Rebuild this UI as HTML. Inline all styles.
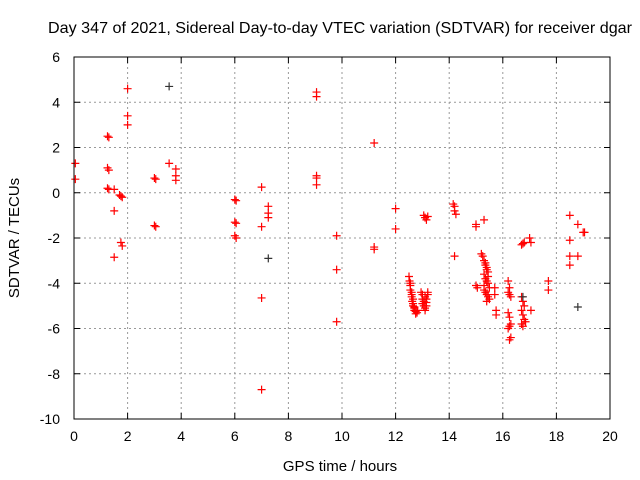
<!DOCTYPE html>
<html><head><meta charset="utf-8"><style>
body{margin:0;background:#fff;}
svg{display:block;font-family:"Liberation Sans",sans-serif;}
</style></head><body>
<svg id="chart" width="640" height="480" xmlns="http://www.w3.org/2000/svg">
<rect width="640" height="480" fill="#fff"/>
<text x="48" y="33" font-size="16" textLength="584" lengthAdjust="spacingAndGlyphs">Day 347 of 2021, Sidereal Day-to-day VTEC variation (SDTVAR) for receiver dgar</text>
<g id="grid"></g><g id="ticks"></g><g id="marks"></g>
<rect x="74" y="57" width="536" height="362" fill="none" stroke="#000" stroke-width="1"/>
<text x="340" y="471" font-size="15" text-anchor="middle">GPS time / hours</text>
<text transform="translate(19,238) rotate(-90)" font-size="15" text-anchor="middle">SDTVAR / TECUs</text>
</svg>
<script>
const xTicks=[0,2,4,6,8,10,12,14,16,18,20];
const yTicks=[6,4,2,0,-2,-4,-6,-8,-10];
const redX=[0.05,0.05,1.25,1.3,1.25,1.3,1.25,1.3,1.5,1.5,1.5,1.7,1.75,1.8,1.75,1.8,2.0,2.0,2.0,3.0,3.05,3.0,3.05,3.55,3.8,3.8,3.8,6.0,6.05,6.0,6.05,6.0,6.05,7.0,7.0,7.0,7.0,7.25,7.25,7.25,9.05,9.05,9.05,9.05,9.05,9.8,9.8,9.8,11.2,11.2,11.2,12.0,12.0,
12.5,12.52,12.55,12.55,12.6,12.6,12.62,12.65,12.65,12.7,12.7,12.75,12.75,12.8,12.82,12.55,12.6,12.65,12.7,
12.95,13.0,13.0,13.05,13.05,13.1,13.1,13.15,13.15,13.2,13.2,13.0,13.1,13.15,
13.05,13.1,13.15,13.2,14.15,14.2,14.2,14.25,14.2,
15.0,15.0,15.0,15.05,15.3,15.2,15.25,15.3,15.35,15.4,15.45,15.3,15.35,15.4,15.45,15.5,15.3,15.35,15.4,15.45,15.5,15.4,15.45,15.7,15.7,15.75,15.75,15.35,15.4,15.45,15.3,
16.2,16.25,16.2,16.25,16.3,16.2,16.25,16.3,16.2,16.25,16.3,16.25,
16.7,16.75,16.8,16.7,16.75,16.8,16.7,16.75,16.8,16.7,16.75,16.85,17.0,17.05,17.05,
17.7,17.7,18.5,18.5,18.5,18.5,18.8,18.8,19.0,19.05];
const redY=[1.3,0.6,2.5,2.45,1.1,1.0,0.2,0.15,0.15,-0.8,-2.85,-0.1,-0.15,-0.2,-2.2,-2.35,4.6,3.4,3.0,0.65,0.6,-1.45,-1.5,1.3,1.05,0.75,0.55,-0.3,-0.35,-1.3,-1.35,-1.9,-2.0,0.25,-1.5,-4.65,-8.7,-0.6,-0.9,-1.1,4.45,4.25,0.75,0.65,0.35,-1.9,-3.4,-5.7,2.2,-2.4,-2.5,-0.7,-1.6,
-3.7,-3.9,-4.1,-4.3,-4.5,-4.6,-4.8,-4.9,-5.0,-5.1,-5.2,-5.25,-5.35,-5.3,-5.2,-4.0,-4.4,-4.7,-5.05,
-4.4,-4.5,-4.7,-4.8,-5.0,-5.1,-5.2,-5.0,-4.7,-4.5,-4.4,-4.9,-4.6,-4.85,
-1.0,-1.1,-1.2,-1.05,-0.5,-0.6,-0.8,-0.95,-2.8,
-1.4,-1.5,-4.1,-4.2,-1.2,-2.7,-2.8,-3.0,-3.1,-3.3,-3.5,-3.6,-3.8,-3.9,-4.0,-4.2,-4.3,-4.4,-4.5,-4.6,-4.7,-4.8,-4.5,-4.2,-4.5,-5.2,-5.4,-3.2,-3.4,-3.7,-4.1,
-3.9,-4.2,-4.4,-4.5,-4.6,-5.3,-5.5,-5.8,-6.0,-5.9,-6.4,-6.5,
-2.3,-2.25,-2.2,-4.6,-4.8,-5.0,-5.2,-5.4,-5.6,-5.8,-5.9,-5.7,-2.0,-2.2,-5.2,
-3.9,-4.3,-1.0,-2.1,-2.8,-3.2,-1.4,-2.8,-1.75,-1.75];
const blackX=[3.55,7.25,18.8,16.75];
const blackY=[4.7,-2.9,-5.05,-4.6];
const X0=74,X1=610,Y0=419,Y1=57;
const sx=v=>X0+(v-0)/(20-0)*(X1-X0);
const sy=v=>Y0-(v+10)/(16)*(Y0-Y1);
const NS="http://www.w3.org/2000/svg";
function mk(tag,attrs,parent){const e=document.createElementNS(NS,tag);for(const k in attrs)e.setAttribute(k,attrs[k]);parent.appendChild(e);return e;}
const grid=document.getElementById('grid'),ticks=document.getElementById('ticks'),marks=document.getElementById('marks');
xTicks.forEach(t=>{const x=sx(t);
 if(t>0&&t<20){const g=mk('line',{x1:x,x2:x,y1:Y1,y2:Y0,stroke:'#999','stroke-dasharray':'2,3'},grid);
 
 }
 mk('line',{x1:x,x2:x,y1:Y0,y2:Y0-6,stroke:'#000'},ticks);mk('line',{x1:x,x2:x,y1:Y1,y2:Y1+6,stroke:'#000'},ticks);
 const l=mk('text',{x:x,y:Y0+22,'font-size':14,'text-anchor':'middle'},ticks);l.textContent=t;
 
 });
yTicks.forEach(t=>{const y=sy(t);
 if(t>-10&&t<6){const g=mk('line',{x1:X0,x2:X1,y1:y,y2:y,stroke:'#999','stroke-dasharray':'2,3'},grid);
 
 }
 mk('line',{x1:X0,x2:X0+6,y1:y,y2:y,stroke:'#000'},ticks);mk('line',{x1:X1,x2:X1-6,y1:y,y2:y,stroke:'#000'},ticks);
 const l=mk('text',{x:X0-14,y:y+5,'font-size':14,'text-anchor':'end'},ticks);l.textContent=t;
 
 });
function plus(xv,yv,c,name){const x=sx(xv),y=sy(yv);
 const p=mk('path',{d:`M${x-4},${y}H${x+4}M${x},${y-4}V${y+4}`,stroke:c,'stroke-width':1.2,fill:'none'},marks);
 
 }
redX.forEach((v,i)=>plus(v,redY[i],'#f00','sdtvar-point'));
blackX.forEach((v,i)=>plus(v,blackY[i],'#333','sdtvar-point-dark'));
</script>
</body></html>
